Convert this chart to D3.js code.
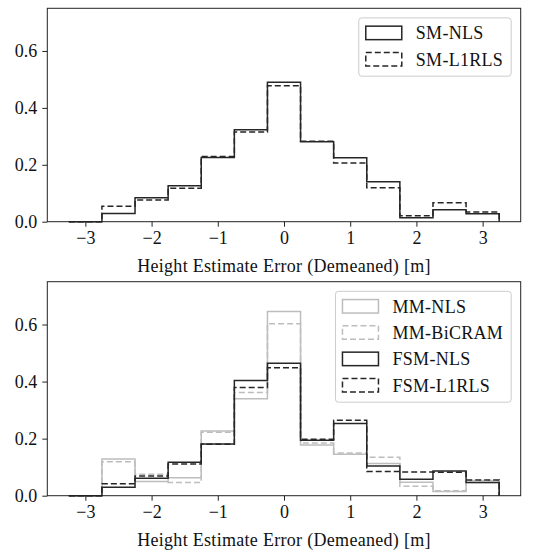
<!DOCTYPE html>
<html>
<head>
<meta charset="utf-8">
<script src="https://cdn.jsdelivr.net/npm/d3@7"></script>
<style>
  body { margin: 0; background: #fff; }
</style>
</head>
<body>
<div id="chart"></div>
<script>
// bin edges of the histograms (width 0.5)
const binEdges = [-3.25, -2.75, -2.25, -1.75, -1.25, -0.75, -0.25, 0.25, 0.75, 1.25, 1.75, 2.25, 2.75, 3.25];
const xTicks = [-3, -2, -1, 0, 1, 2, 3];
const yTicks = [0.0, 0.2, 0.4, 0.6];

// top panel
const smNLS    = [0, 0.029, 0.084, 0.126, 0.226, 0.323, 0.490, 0.281, 0.225, 0.140, 0.014, 0.042, 0.028];
const smL1RLS  = [0, 0.054, 0.076, 0.118, 0.229, 0.315, 0.478, 0.283, 0.206, 0.119, 0.021, 0.067, 0.034];

// bottom panel
const mmNLS    = [0, 0.129, 0.050, 0.063, 0.227, 0.340, 0.646, 0.178, 0.145, 0.113, 0.047, 0.015, 0.046];
const mmBiCRAM = [0, 0.119, 0.075, 0.046, 0.222, 0.362, 0.603, 0.185, 0.150, 0.135, 0.033, 0.017, 0.053];
const fsmNLS   = [0, 0.030, 0.061, 0.117, 0.181, 0.404, 0.464, 0.194, 0.253, 0.104, 0.058, 0.087, 0.046];
const fsmL1RLS = [0, 0.042, 0.069, 0.111, 0.180, 0.379, 0.448, 0.198, 0.264, 0.085, 0.083, 0.082, 0.055];

const xLabel = "Height Estimate Error (Demeaned) [m]";

const dark = "#262626", light = "#bdbdbd";
const serif = "'Liberation Serif', 'DejaVu Serif', serif";

const panels = [
  {top: 8.3, bottom: 221.7, series: [
    {name: "SM-NLS", values: smNLS, color: dark, dash: null},
    {name: "SM-L1RLS", values: smL1RLS, color: dark, dash: "6,3"}
  ]},
  {top: 281.7, bottom: 495.7, series: [
    {name: "MM-NLS", values: mmNLS, color: light, dash: null},
    {name: "MM-BiCRAM", values: mmBiCRAM, color: light, dash: "6,3"},
    {name: "FSM-NLS", values: fsmNLS, color: dark, dash: null},
    {name: "FSM-L1RLS", values: fsmL1RLS, color: dark, dash: "6,3"}
  ]}
];

const W = 557, H = 550;
const left = 47.3, right = 520.7;
const fontSize = 18;

const svg = d3.select("#chart").append("svg")
    .attr("width", W)
    .attr("height", H)
    .style("font-family", serif);

svg.append("rect").attr("width", W).attr("height", H).attr("fill", "white");

const x = d3.scaleLinear().domain([-3.575, 3.575]).range([left, right]);

// turns a histogram into the points of its step outline
function stepPoints(values) {
  const pts = [[binEdges[0], 0]];
  values.forEach(function(v, i) {
    pts.push([binEdges[i], v]);
    pts.push([binEdges[i + 1], v]);
  });
  pts.push([binEdges[binEdges.length - 1], 0]);
  return pts;
}

panels.forEach(function(p) {
  const y = d3.scaleLinear().domain([0, 0.75]).range([p.bottom, p.top]);
  const g = svg.append("g");

  const line = d3.line()
      .x(d => x(d[0]))
      .y(d => y(d[1]));

  g.selectAll("path.hist")
      .data(p.series)
      .join("path")
      .attr("class", "hist")
      .attr("d", d => line(stepPoints(d.values)))
      .attr("fill", "none")
      .attr("stroke", d => d.color)
      .attr("stroke-width", 1.5)
      .attr("stroke-dasharray", d => d.dash);

  // axes
  const xAxis = g.append("g")
      .attr("transform", `translate(0,${p.bottom})`)
      .call(d3.axisBottom(x).tickValues(xTicks).tickFormat(d3.format("d")).tickSize(5).tickPadding(5));
  const yAxis = g.append("g")
      .attr("transform", `translate(${left},0)`)
      .call(d3.axisLeft(y).tickValues(yTicks).tickFormat(d3.format(".1f")).tickSize(5).tickPadding(5));

  [xAxis, yAxis].forEach(function(a) {
    a.attr("font-family", null).attr("font-size", fontSize);
    a.select(".domain").remove();
    a.selectAll("line").attr("stroke", "#222").attr("stroke-width", 1);
    a.selectAll("text").attr("fill", "#111");
  });

  // spines
  g.append("rect")
      .attr("x", left).attr("y", p.top)
      .attr("width", right - left).attr("height", p.bottom - p.top)
      .attr("fill", "none")
      .attr("stroke", "#222")
      .attr("stroke-width", 1);

  g.append("text")
      .attr("x", (left + right) / 2)
      .attr("y", p.bottom + 50)
      .attr("text-anchor", "middle")
      .attr("fill", "#111")
      .attr("font-size", fontSize)
      .attr("letter-spacing", 0.3)
      .text(xLabel);

  // legend
  const rowH = 26.3, handleW = 36, handleH = 13.5;
  const legend = g.append("g");
  const frame = legend.append("rect");
  const labels = legend.selectAll("text")
      .data(p.series)
      .join("text")
      .attr("dy", "0.35em")
      .attr("fill", "#111")
      .attr("font-size", fontSize)
      .attr("letter-spacing", 0.3)
      .text(d => d.name);
  let maxW = 0;
  labels.each(function() { maxW = Math.max(maxW, this.getComputedTextLength()); });
  const boxRight = right - 9.5;
  const boxW = 7 + 50 + maxW + 8;
  const boxLeft = boxRight - boxW;
  const boxTop = p.top + 9.6;
  const boxH = 32 + (p.series.length - 1) * rowH;

  frame.attr("x", boxLeft).attr("y", boxTop)
      .attr("width", boxW).attr("height", boxH)
      .attr("rx", 3)
      .attr("fill", "white").attr("fill-opacity", 0.8)
      .attr("stroke", "#cccccc").attr("stroke-width", 1);

  legend.selectAll("rect.handle")
      .data(p.series)
      .join("rect")
      .attr("class", "handle")
      .attr("x", boxLeft + 7)
      .attr("y", (d, i) => boxTop + 15 + i * rowH - handleH / 2)
      .attr("width", handleW)
      .attr("height", handleH)
      .attr("fill", "none")
      .attr("stroke", d => d.color)
      .attr("stroke-width", 1.5)
      .attr("stroke-dasharray", d => d.dash);

  labels
      .attr("x", boxLeft + 7 + 50)
      .attr("y", (d, i) => boxTop + 15 + i * rowH);
});
</script>
</body>
</html>
